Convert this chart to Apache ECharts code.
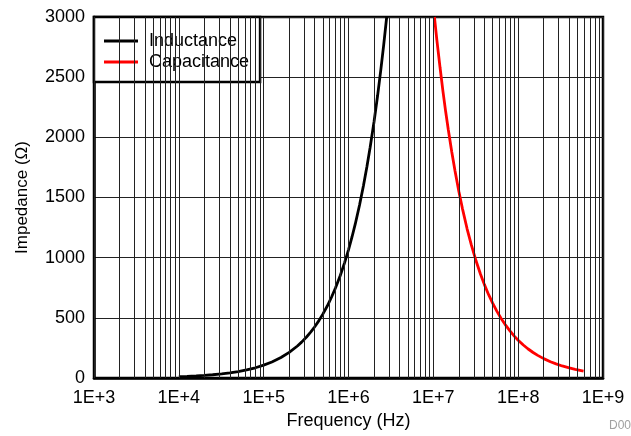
<!DOCTYPE html>
<html>
<head>
<meta charset="utf-8">
<script src="https://cdn.jsdelivr.net/npm/echarts@6/dist/echarts.min.js"></script>
<style>html,body{margin:0;padding:0;background:#fff;}#c{width:631px;height:436px;}</style>
</head>
<body>
<div id="c"></div>
<script>
// Frequency (Hz) and impedance (Ohm) readings
const inductanceFreq = [1e4, 1.25e4, 1.6e4, 2e4, 2.5e4, 3.2e4, 4e4, 5e4, 6.3e4, 8e4, 1e5, 1.25e5, 1.6e5, 2e5, 2.5e5, 2.8e5, 3.2e5, 3.6e5, 4e5, 4.5e5, 5e5, 5.6e5, 6.3e5, 7e5, 8e5, 9e5, 1e6, 1.1e6, 1.2e6, 1.35e6, 1.5e6, 1.65e6, 1.8e6, 2e6, 2.2e6, 2.4e6, 2.6e6, 2.82e6];
const inductanceZ = [11, 13, 17, 21, 27, 34, 43, 53, 67, 85, 107, 133, 170, 213, 266, 298, 341, 383, 426, 479, 533, 596, 671, 746, 852, 959, 1065, 1172, 1278, 1438, 1598, 1757, 1917, 2130, 2343, 2556, 2769, 3000];
const capacitanceFreq = [1.03e7, 1.1e7, 1.2e7, 1.3e7, 1.4e7, 1.5e7, 1.65e7, 1.8e7, 2e7, 2.2e7, 2.5e7, 2.8e7, 3.2e7, 3.6e7, 4e7, 4.5e7, 5e7, 5.6e7, 6.3e7, 7e7, 8e7, 9e7, 1e8, 1.15e8, 1.3e8, 1.5e8, 1.7e8, 2e8, 2.4e8, 2.8e8, 3.3e8, 4e8, 4.7e8, 5.9e8];
const capacitanceZ = [3000, 2810, 2580, 2380, 2210, 2065, 1878, 1722, 1550, 1410, 1240, 1108, 970, 862, 776, 690, 622, 556, 495, 446, 391, 348, 314, 274, 243, 212, 188, 161, 135, 117, 100, 84, 72, 58];
const xTickLabels = ['1E+3', '1E+4', '1E+5', '1E+6', '1E+7', '1E+8', '1E+9'];
const seriesNames = ['Inductance', 'Capacitance'];

const decades = [1e3, 1e4, 1e5, 1e6, 1e7, 1e8, 1e9];
const gridValues = [];
for (let i = 0; i < decades.length - 1; i++) {
  for (let m = 1; m <= 9; m++) gridValues.push(decades[i] * m);
}
gridValues.push(1e9);

const zip = (a, b) => a.map((v, i) => [v, b[i]]);
const font = 'Liberation Sans, Arial, sans-serif';

const chart = echarts.init(document.getElementById('c'), null, {renderer: 'canvas'});
chart.setOption({
  animation: false,
  backgroundColor: '#fff',
  grid: {left: 94, right: 28, top: 17, bottom: 58, show: true, borderColor: '#000', borderWidth: 2.5, backgroundColor: 'transparent'},
  legend: {
    data: seriesNames,
    orient: 'vertical',
    left: 94, top: 17,
    padding: [15, 11, 11, 10],
    itemGap: 3,
    itemWidth: 34, itemHeight: 3,
    icon: 'rect',
    backgroundColor: '#fff',
    borderColor: '#000', borderWidth: 2.5,
    textStyle: {fontSize: 18, color: '#000', fontFamily: font, padding: [0, 0, 0, 6]}
  },
  xAxis: {
    type: 'log', logBase: 10, min: 1e3, max: 1e9, splitNumber: 6,
    name: 'Frequency (Hz)', nameLocation: 'middle', nameGap: 32,
    nameTextStyle: {fontSize: 18, color: '#000', fontFamily: font},
    axisLine: {show: true, lineStyle: {color: '#000', width: 2.5}},
    axisTick: {show: false},
    splitLine: {show: false},
    axisLabel: {
      fontSize: 18, color: '#000', fontFamily: font, margin: 11,
      formatter: v => xTickLabels[Math.round(Math.log10(v)) - 3] || ''
    }
  },
  yAxis: {
    type: 'value', min: 0, max: 3000, interval: 500,
    name: 'Impedance (Ω)', nameLocation: 'middle', nameGap: 63,
    nameTextStyle: {fontSize: 17, color: '#000', fontFamily: font},
    axisLine: {show: true, lineStyle: {color: '#000', width: 2.5}},
    axisTick: {show: false},
    splitLine: {show: true, lineStyle: {color: '#222', width: 1}},
    axisLabel: {fontSize: 18, color: '#000', fontFamily: font, margin: 9, formatter: v => String(v)}
  },
  series: [
    {
      type: 'line', name: '_grid', data: [], silent: true,
      markLine: {
        silent: true, symbol: 'none', label: {show: false},
        lineStyle: {color: '#222', width: 1, type: 'solid'},
        data: gridValues.map(v => ({xAxis: v}))
      }
    },
    {
      type: 'line', name: seriesNames[0], data: zip(inductanceFreq, inductanceZ),
      showSymbol: false, smooth: false,
      lineStyle: {color: '#000', width: 2.8}, itemStyle: {color: '#000'}, z: 3
    },
    {
      type: 'line', name: seriesNames[1], data: zip(capacitanceFreq, capacitanceZ),
      showSymbol: false, smooth: false,
      lineStyle: {color: '#ff0000', width: 2.8}, itemStyle: {color: '#ff0000'}, z: 3
    }
  ],
  graphic: [{
    type: 'text', left: 609, top: 420,
    style: {text: 'D00', fontSize: 12, fill: '#a0a0a0', fontFamily: font}
  }]
});
</script>
</body>
</html>
